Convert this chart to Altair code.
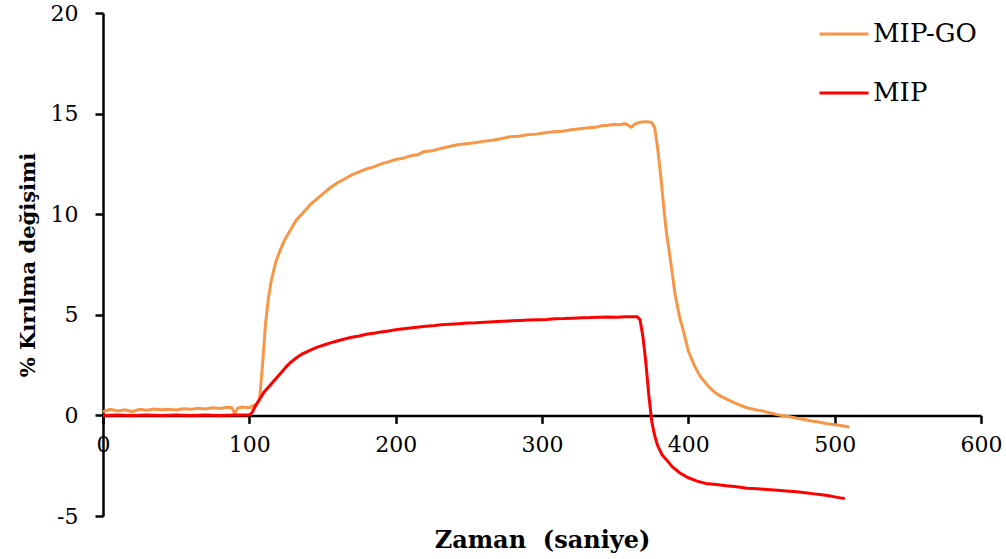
import altair as alt
import pandas as pd

# MIP-GO response (% refractive change vs time, s)
go_t = [0, 5, 10, 15, 20, 25, 30, 35, 40, 45, 50, 55, 60, 65, 70, 75, 80, 85, 88, 90,
        92, 95, 100, 103, 105, 107, 109, 111, 113, 115, 118, 121, 124, 128, 132, 137,
        142, 146, 150, 155, 160, 165, 170, 175, 180, 185, 190, 195, 200, 205, 210, 215,
        219, 225, 230, 236, 242, 248, 254, 260, 266, 272, 278, 284, 290, 296, 302, 308,
        314, 320, 326, 332, 337, 341, 345, 349, 353, 357, 361, 364, 368, 372, 375, 377,
        379, 381, 383, 385, 388, 391, 394, 397, 400, 404, 408, 413, 418, 422, 428, 434,
        440, 446, 452, 456, 460, 465, 470, 475, 479, 484, 489, 494, 499, 504, 508, 510]
go_v = [0.18, 0.30, 0.22, 0.28, 0.18, 0.30, 0.26, 0.32, 0.28, 0.30, 0.27, 0.33, 0.30,
        0.36, 0.32, 0.38, 0.34, 0.40, 0.38, 0.10, 0.35, 0.42, 0.38, 0.50, 0.55, 0.80,
        2.50, 4.50, 5.80, 6.70, 7.60, 8.20, 8.70, 9.20, 9.70, 10.10, 10.50, 10.75,
        11.00, 11.30, 11.55, 11.75, 11.95, 12.10, 12.25, 12.35, 12.50, 12.60, 12.72,
        12.78, 12.90, 12.95, 13.10, 13.15, 13.25, 13.35, 13.45, 13.50, 13.55, 13.62,
        13.68, 13.75, 13.85, 13.88, 13.95, 13.98, 14.05, 14.10, 14.12, 14.20, 14.25,
        14.30, 14.32, 14.40, 14.42, 14.46, 14.45, 14.50, 14.33, 14.50, 14.58, 14.60,
        14.55, 14.30, 13.30, 12.00, 10.50, 9.10, 7.60, 6.00, 4.90, 4.10, 3.20, 2.50,
        1.95, 1.50, 1.15, 0.96, 0.75, 0.55, 0.38, 0.28, 0.20, 0.12, 0.05, -0.02,
        -0.08, -0.15, -0.20, -0.28, -0.33, -0.40, -0.45, -0.50, -0.55, -0.58]

# MIP response
mip_t = [0, 10, 20, 30, 40, 50, 60, 70, 80, 90, 100, 102, 104, 107, 110, 113, 116, 119,
         122, 125, 128, 132, 136, 141, 146, 151, 156, 160, 165, 170, 175, 180, 185, 190,
         195, 201, 207, 213, 219, 225, 231, 237, 243, 249, 255, 261, 267, 273, 279, 285,
         291, 297, 303, 309, 315, 321, 327, 333, 339, 345, 351, 357, 362, 365, 367, 369,
         371, 373, 375, 377, 379, 382, 385, 389, 394, 400, 406, 412, 419, 426, 433, 440,
         447, 454, 461, 467, 474, 480, 486, 490, 495, 500, 504, 507]
mip_v = [0.00, 0.02, 0.00, 0.02, 0.00, 0.02, 0.00, 0.02, 0.00, 0.02, 0.02, 0.15, 0.45,
         0.80, 1.15, 1.40, 1.65, 1.90, 2.15, 2.40, 2.62, 2.85, 3.05, 3.22, 3.38, 3.50,
         3.62, 3.70, 3.80, 3.88, 3.95, 4.03, 4.08, 4.15, 4.20, 4.27, 4.32, 4.37, 4.42,
         4.45, 4.50, 4.53, 4.56, 4.59, 4.60, 4.63, 4.66, 4.68, 4.70, 4.72, 4.74, 4.76,
         4.77, 4.80, 4.81, 4.83, 4.85, 4.86, 4.88, 4.89, 4.88, 4.90, 4.90, 4.90, 4.75,
         3.90, 2.60, 1.00, -0.30, -1.00, -1.50, -1.95, -2.20, -2.55, -2.85, -3.10,
         -3.27, -3.38, -3.43, -3.50, -3.55, -3.62, -3.65, -3.68, -3.72, -3.76, -3.80,
         -3.85, -3.90, -3.93, -3.98, -4.05, -4.10, -4.13]

series_names = ["MIP-GO", "MIP"]
series_colors = ["#F79646", "#FF0000"]
x_ticks = [0, 100, 200, 300, 400, 500, 600]
y_ticks = [-5, 0, 5, 10, 15, 20]

go_df = pd.DataFrame({"t": go_t, "v": go_v, "seri": "MIP-GO"})
mip_df = pd.DataFrame({"t": mip_t, "v": mip_v, "seri": "MIP"})

SERIF = "DejaVu Serif"
W, H = 878, 503
Y_MIN, Y_MAX = -5, 20
# shift the x axis up so it sits on the zero line
x_offset = -H * (0 - Y_MIN) / (Y_MAX - Y_MIN)
# plain hyphen for negative tick labels
plain_label = "'' + datum.value"

x_enc = alt.X(
    "t:Q",
    scale=alt.Scale(domain=[0, 600], nice=False, zero=False),
    axis=alt.Axis(
        values=x_ticks, offset=x_offset, grid=False, labelFlush=False,
        tickSize=8, tickWidth=2.5, domainWidth=2.5,
        domainColor="black", tickColor="black", labelExpr=plain_label,
        labelFont=SERIF, labelFontSize=22, labelColor="black", labelPadding=11,
        title="Zaman\u00a0 (saniye)", titleFont=SERIF, titleFontSize=24,
        titleFontWeight="bold", titleColor="black",
        titleBaseline="alphabetic", titleY=132, titleX=W / 2,
    ),
)
y_enc = alt.Y(
    "v:Q",
    scale=alt.Scale(domain=[Y_MIN, Y_MAX], nice=False, zero=False),
    axis=alt.Axis(
        values=y_ticks, grid=False, labelFlush=False,
        tickSize=8, tickWidth=2.5, domainWidth=2.5,
        domainColor="black", tickColor="black", labelExpr=plain_label,
        labelFont=SERIF, labelFontSize=22, labelColor="black", labelPadding=17,
        title="% Kırılma değişimi", titleFont=SERIF, titleFontSize=21,
        titleFontWeight="bold", titleColor="black",
        titleAngle=270, titleBaseline="alphabetic", titleAlign="center",
        titleX=-69, titleY=H / 2,
    ),
)
color_enc = alt.Color(
    "seri:N",
    scale=alt.Scale(domain=series_names, range=series_colors),
    legend=alt.Legend(
        title=None, orient="none", legendX=715, legendY=-5,
        symbolType="stroke", symbolSize=2401, symbolStrokeWidth=3,
        labelFont=SERIF, labelFontSize=26, labelColor="black",
        labelOffset=3, rowPadding=20,
    ),
)

go_line = alt.Chart(go_df).mark_line(strokeWidth=3).encode(x=x_enc, y=y_enc, color=color_enc)
mip_line = alt.Chart(mip_df).mark_line(strokeWidth=3).encode(x=x_enc, y=y_enc, color=color_enc)

chart = (
    alt.layer(go_line, mip_line)
    .properties(
        width=W, height=H,
        autosize=alt.AutoSizeParams(type="none"),
        padding={"left": 103, "top": 13, "right": 25, "bottom": 43},
        background="white",
    )
    .configure_view(stroke=None)
)

chart.save("out.html", embed_options={"renderer": "svg", "actions": False})
